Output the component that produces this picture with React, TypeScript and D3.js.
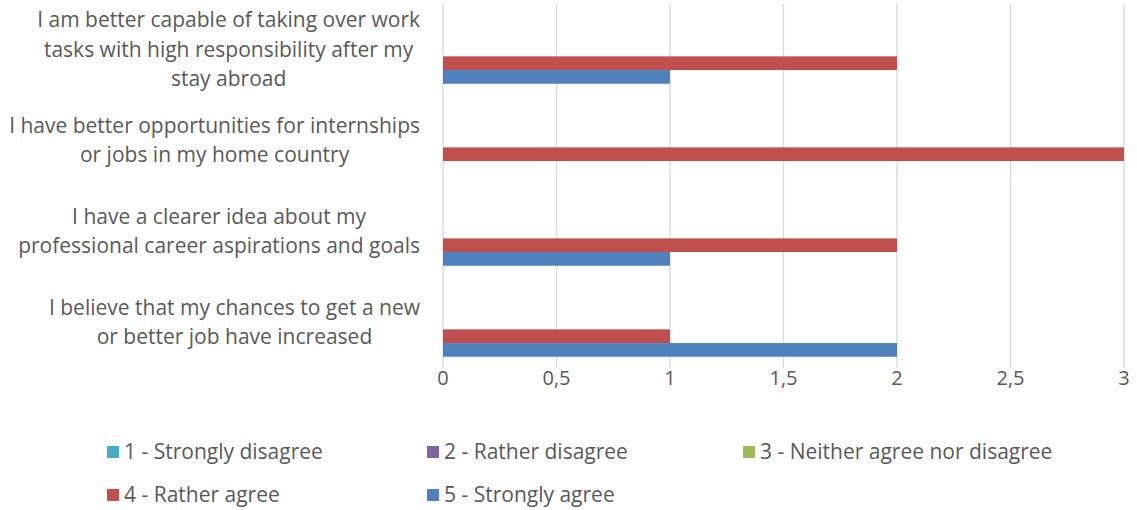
import * as d3 from "d3";
import React, { useEffect, useRef } from "react";

const categories = [
	"I am better capable of taking over work tasks with high responsibility after my stay abroad",
	"I have better opportunities for internships or jobs in my home country",
	"I have a clearer idea about my professional career aspirations and goals",
	"I believe that my chances to get a new or better job have increased",
];
// wrapped as in the source picture
const categoryLines = [
	["I am better capable of taking over work", "tasks with high responsibility after my", "stay abroad"],
	["I have better opportunities for internships", "or jobs in my home country"],
	["I have a clearer idea about my", "professional career aspirations and goals"],
	["I believe that my chances to get a new", "or better job have increased"],
];
const seriesNames = [
	"1 - Strongly disagree",
	"2 - Rather disagree",
	"3 - Neither agree nor disagree",
	"4 - Rather agree",
	"5 - Strongly agree",
];
const stronglyDisagree = [0, 0, 0, 0];
const ratherDisagree = [0, 0, 0, 0];
const neither = [0, 0, 0, 0];
const ratherAgree = [2, 3, 2, 1];
const stronglyAgree = [1, 0, 1, 2];
const xTicks = [0, 0.5, 1, 1.5, 2, 2.5, 3];

const seriesValues = [stronglyDisagree, ratherDisagree, neither, ratherAgree, stronglyAgree];
const colors = ["#4BACC6", "#8064A2", "#9BBB59", "#C0504D", "#4F81BD"];

const W = 1137;
const H = 510;
const plot = { left: 443, right: 1124, top: 4, bottom: 368 };
const labelRight = 420;
const font = "Open Sans, sans-serif";
const textColor = "#595959";

const App = () => {
	const ref = useRef(null);

	useEffect(() => {
		if (!ref.current) return;
		const svg = d3.select(ref.current);
		svg.selectAll("*").remove();

		const x = d3.scaleLinear().domain([0, 3]).range([plot.left, plot.right]);
		const y = d3.scaleBand().domain(categories).range([plot.top, plot.bottom]);
		const inner = d3
			.scaleBand()
			.domain(seriesNames)
			.range([11.25, y.bandwidth() - 11.25]);

		// gridlines
		svg
			.append("g")
			.selectAll("line")
			.data(xTicks)
			.enter()
			.append("line")
			.attr("x1", (d) => x(d))
			.attr("x2", (d) => x(d))
			.attr("y1", plot.top)
			.attr("y2", plot.bottom)
			.attr("stroke", "#d9d9d9")
			.attr("stroke-width", 1.3);

		// tick labels
		svg
			.append("g")
			.selectAll("text")
			.data(xTicks)
			.enter()
			.append("text")
			.attr("x", (d) => x(d))
			.attr("y", 385)
			.attr("text-anchor", "middle")
			.attr("font-family", font)
			.attr("font-size", 20)
			.attr("fill", textColor)
			.text((d) => String(d).replace(".", ","));

		// bars
		seriesNames.forEach((s, si) => {
			svg
				.append("g")
				.selectAll("rect")
				.data(seriesValues[si])
				.enter()
				.append("rect")
				.attr("x", x(0))
				.attr("y", (d, i) => (y(categories[i]) as number) + (inner(s) as number))
				.attr("width", (d) => x(d) - x(0))
				.attr("height", inner.bandwidth())
				.attr("fill", colors[si]);
		});

		// category labels: block right-aligned, lines centred within the block
		const labels = svg
			.append("g")
			.selectAll("text")
			.data(categories)
			.enter()
			.append("text")
			.attr("text-anchor", "middle")
			.attr("font-family", font)
			.attr("font-size", 21)
			.attr("fill", textColor);
		labels.each(function (c, i) {
			const lines = categoryLines[i];
			const cy = (y(c) as number) + y.bandwidth() / 2;
			const lh = 29.5;
			const spans = d3
				.select(this)
				.selectAll("tspan")
				.data(lines)
				.enter()
				.append("tspan")
				.attr("y", (d, j) => cy + (j - (lines.length - 1) / 2) * lh + 7)
				.text((d) => d);
			let maxW = 0;
			spans.each(function () {
				maxW = Math.max(maxW, (this as SVGTextContentElement).getComputedTextLength());
			});
			spans.attr("x", labelRight - maxW / 2);
		});

		// legend
		const legendPos = [
			[107, 452],
			[427, 452],
			[743, 452],
			[107, 495],
			[427, 495],
		];
		const legend = svg
			.append("g")
			.selectAll("g")
			.data(seriesNames)
			.enter()
			.append("g")
			.attr("transform", (d, i) => `translate(${legendPos[i][0]},${legendPos[i][1]})`);
		legend
			.append("rect")
			.attr("x", 0)
			.attr("y", -6)
			.attr("width", 12)
			.attr("height", 12)
			.attr("fill", (d, i) => colors[i]);
		legend
			.append("text")
			.attr("x", 17)
			.attr("y", 7)
			.attr("font-family", font)
			.attr("font-size", 21)
			.attr("fill", textColor)
			.text((d) => d);
	}, []);

	return (
		<svg
			ref={ref}
			width={W}
			height={H}
			style={{ position: "absolute", left: 0, top: 0, display: "block", background: "white" }}
		/>
	);
};

export default App;
